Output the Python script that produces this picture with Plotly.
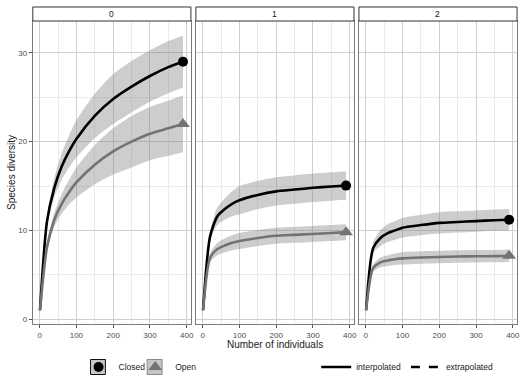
import plotly.graph_objects as go
from plotly.subplots import make_subplots

W, H = 528, 385

# ---------------- data ----------------
facets = ["0", "1", "2"]
n_knots = [1, 20, 40, 60, 80, 100, 150, 200, 250, 300, 350, 390]

closed_mean = {
    "0": [1, 11.0, 14.8, 17.2, 18.9, 20.3, 22.9, 24.8, 26.2, 27.4, 28.4, 29.0],
    "1": [1, 9.3, 11.6, 12.4, 13.0, 13.4, 14.0, 14.4, 14.6, 14.8, 14.95, 15.05],
    "2": [1, 8.0, 9.15, 9.7, 10.0, 10.3, 10.6, 10.85, 10.95, 11.05, 11.15, 11.2],
}
closed_lower = {
    "0": [1, 10.4, 13.7, 15.7, 17.1, 18.2, 20.4, 22.0, 23.3, 24.5, 25.45, 26.1],
    "1": [1, 8.8, 10.6, 11.2, 11.6, 11.8, 12.4, 12.8, 13.0, 13.2, 13.35, 13.45],
    "2": [1, 7.4, 8.25, 8.7, 8.95, 9.2, 9.45, 9.65, 9.75, 9.85, 9.95, 10.0],
}
closed_upper = {
    "0": [1, 11.6, 15.9, 18.7, 20.7, 22.4, 25.4, 27.6, 29.1, 30.3, 31.35, 31.95],
    "1": [1, 9.8, 12.6, 13.6, 14.4, 15.0, 15.6, 16.0, 16.2, 16.4, 16.55, 16.65],
    "2": [1, 8.6, 10.05, 10.7, 11.05, 11.4, 11.75, 12.05, 12.15, 12.25, 12.35, 12.4],
}
open_mean = {
    "0": [1, 8.1, 11.2, 13.0, 14.3, 15.4, 17.4, 18.9, 20.0, 20.9, 21.5, 22.0],
    "1": [1, 6.9, 7.9, 8.3, 8.6, 8.8, 9.15, 9.4, 9.5, 9.6, 9.7, 9.8],
    "2": [1, 5.75, 6.4, 6.6, 6.75, 6.85, 6.95, 7.0, 7.05, 7.08, 7.1, 7.15],
}
open_lower = {
    "0": [1, 7.6, 10.4, 11.9, 12.9, 13.7, 15.2, 16.3, 17.1, 17.9, 18.4, 18.8],
    "1": [1, 6.4, 7.2, 7.5, 7.75, 7.9, 8.25, 8.5, 8.6, 8.7, 8.8, 8.9],
    "2": [1, 5.35, 5.85, 6.0, 6.1, 6.15, 6.25, 6.3, 6.35, 6.38, 6.4, 6.45],
}
open_upper = {
    "0": [1, 8.6, 12.0, 14.1, 15.7, 17.1, 19.6, 21.5, 22.9, 23.9, 24.6, 25.2],
    "1": [1, 7.4, 8.6, 9.1, 9.45, 9.7, 10.05, 10.3, 10.4, 10.5, 10.6, 10.7],
    "2": [1, 6.15, 6.95, 7.2, 7.4, 7.55, 7.65, 7.7, 7.75, 7.78, 7.8, 7.85],
}

x_ticks = [0, 100, 200, 300, 400]
y_ticks = [0, 10, 20, 30]
groups = ["Closed", "Open"]
methods = ["interpolated", "extrapolated"]

# ---------------- styling ----------------
FONT = "Liberation Sans, Arial, sans-serif"
line_col = {"Closed": "#000000", "Open": "#737373"}
band_col = "rgba(130,130,130,0.40)"
symbols = {"Closed": "circle", "Open": "triangle-up"}
msize = {"Closed": 10, "Open": 12}
legend_name = {"Closed": "legend", "Open": "legend3"}

px_domains = [(33, 192), (197, 356), (361, 520)]
y_top_px, y_bot_px = 21, 324

fig = make_subplots(rows=1, cols=3, shared_yaxes=True)

series = {
    "Closed": (closed_mean, closed_lower, closed_upper),
    "Open": (open_mean, open_lower, open_upper),
}
spl = dict(shape="spline", smoothing=0.7)

for i, f in enumerate(facets):
    col = i + 1
    for g in groups:
        mean, lo, up = series[g]
        fig.add_trace(go.Scatter(
            x=n_knots, y=lo[f], mode="lines", line=dict(width=0, **spl),
            hoverinfo="skip", showlegend=False), row=1, col=col)
        fig.add_trace(go.Scatter(
            x=n_knots, y=up[f], mode="lines", line=dict(width=0, **spl),
            fill="tonexty", fillcolor=band_col,
            hoverinfo="skip", showlegend=False), row=1, col=col)
    for g in groups:
        mean, lo, up = series[g]
        fig.add_trace(go.Scatter(
            x=n_knots, y=mean[f], mode="lines",
            line=dict(color=line_col[g], width=2.6, **spl),
            showlegend=False), row=1, col=col)
    for g in groups:
        mean, lo, up = series[g]
        fig.add_trace(go.Scatter(
            x=[n_knots[-1]], y=[mean[f][-1]], mode="markers",
            name=g, legend=legend_name[g],
            marker=dict(symbol=symbols[g], size=msize[g], color=line_col[g]),
            showlegend=(i == 0)), row=1, col=col)

for m, d in zip(methods, ["solid", "dash"]):
    fig.add_trace(go.Scatter(x=[None], y=[None], mode="lines", name=m,
                             legend="legend2",
                             line=dict(color="black", width=2.6, dash=d)),
                  row=1, col=1)

tickfont = dict(family=FONT, size=8, color="#4d4d4d")
for i, (a, b) in enumerate(px_domains):
    ax = "xaxis" if i == 0 else f"xaxis{i+1}"
    fig.layout[ax].update(
        domain=[a / W, b / W], range=[-18.5, 411.5],
        tickvals=x_ticks, ticktext=[str(v) for v in x_ticks],
        showgrid=True, gridcolor="#cfcfcf", gridwidth=1,
        minor=dict(showgrid=True, gridcolor="#ebebeb", dtick=50, gridwidth=1),
        zeroline=False, showline=True, mirror=True, linecolor="#7a7a7a", linewidth=1,
        ticks="outside", ticklen=3, tickcolor="#555", tickfont=tickfont,
    )
    ay = "yaxis" if i == 0 else f"yaxis{i+1}"
    fig.layout[ay].update(
        domain=[1 - y_bot_px / H, 1 - y_top_px / H], range=[-0.55, 33.6],
        tickvals=y_ticks, ticktext=[str(v) for v in y_ticks],
        showticklabels=(i == 0),
        showgrid=True, gridcolor="#cfcfcf", gridwidth=1,
        minor=dict(showgrid=True, gridcolor="#ebebeb", dtick=5, gridwidth=1),
        zeroline=False, showline=True, mirror=True, linecolor="#7a7a7a", linewidth=1,
        ticks="outside" if i == 0 else "", ticklen=3, tickcolor="#555", tickfont=tickfont,
    )

shapes = []
annotations = []
for i, (a, b) in enumerate(px_domains):
    shapes.append(dict(type="rect", xref="paper", yref="paper",
                       x0=a / W, x1=b / W, y0=1 - y_top_px / H, y1=1 - 7 / H,
                       line=dict(color="#333333", width=1), fillcolor="white"))
    annotations.append(dict(text=facets[i], xref="paper", yref="paper",
                            x=(a + b) / 2 / W, y=1 - 14.5 / H, showarrow=False,
                            xanchor="center", yanchor="middle",
                            font=dict(family=FONT, size=8.5, color="#1a1a1a")))

# legend key backgrounds (ribbon keys)
for (x0, x1), border in zip([(91, 106), (148, 163)], ["#111111", "#8a8a8a"]):
    shapes.append(dict(type="rect", xref="paper", yref="paper",
                       x0=x0 / W, x1=x1 / W, y0=1 - 374.5 / H, y1=1 - 359.5 / H,
                       line=dict(color=border, width=1), fillcolor="#c6c6c6"))

annotations.append(dict(text="Number of individuals", xref="paper", yref="paper",
                        x=276.5 / W, y=1 - 344 / H, showarrow=False,
                        xanchor="center", yanchor="middle",
                        font=dict(family=FONT, size=10, color="#222")))
annotations.append(dict(text="Species diversity", xref="paper", yref="paper",
                        x=12 / W, y=1 - 172 / H, showarrow=False, textangle=-90,
                        xanchor="center", yanchor="middle",
                        font=dict(family=FONT, size=10, color="#222")))

legfont = dict(family=FONT, size=8.5, color="#222")
common = dict(orientation="h", yanchor="middle", xanchor="left", font=legfont,
              bgcolor="rgba(0,0,0,0)", itemwidth=30, y=1 - 367 / H)
fig.update_layout(
    width=W, height=H,
    margin=dict(l=0, r=0, t=0, b=0),
    paper_bgcolor="white", plot_bgcolor="white",
    shapes=shapes, annotations=annotations,
    legend=dict(x=79 / W, **common),
    legend3=dict(x=136 / W, **common),
    legend2=dict(x=318 / W, **common),
    showlegend=True,
)

fig.write_html("out.html", config={"displayModeBar": False},
               post_script="document.body.style.margin='0';")
